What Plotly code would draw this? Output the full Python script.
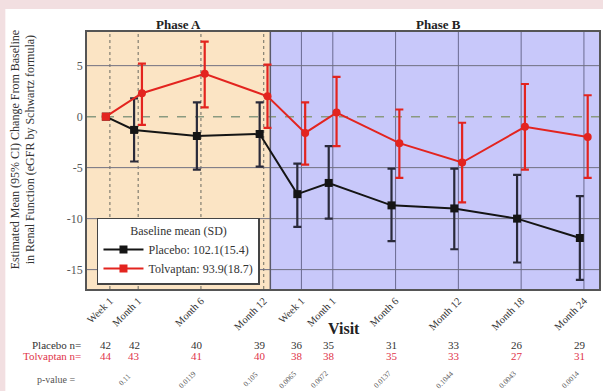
import plotly.graph_objects as go

# ---- data ----
visits = ["Week 1", "Month 1", "Month 6", "Month 12", "Week 1", "Month 1",
          "Month 6", "Month 12", "Month 18", "Month 24"]
xpos = [0, 0.9, 2.9, 4.9, 6.1, 7.1, 9.1, 11.1, 13.1, 15.1]

placebo_mean = [0, -1.3, -1.9, -1.7, -7.6, -6.5, -8.7, -9.0, -10.0, -11.9]
placebo_hi = [0, 1.8, 1.4, 1.4, -4.6, -2.9, -5.1, -5.1, -5.7, -7.8]
placebo_lo = [0, -4.4, -5.2, -4.9, -10.8, -10.0, -12.2, -13.0, -14.3, -16.0]

tolv_mean = [0, 2.3, 4.2, 2.0, -1.6, 0.4, -2.6, -4.5, -1.0, -2.0]
tolv_hi = [0, 5.2, 7.35, 5.1, 1.4, 3.9, 0.7, -0.6, 3.2, 2.1]
tolv_lo = [0, -0.8, 0.9, -1.1, -4.7, -2.9, -6.0, -8.4, -5.2, -6.0]

placebo_n = [42, 42, 40, 39, 36, 35, 31, 33, 26, 29]
tolv_n = [44, 43, 41, 40, 38, 38, 35, 33, 27, 31]
p_values = ["", "0.11", "0.0119", "0.105", "0.0065", "0.0072", "0.0137",
            "0.1044", "0.0043", "0.0014"]

yticks = [-15, -10, -5, 0, 5]

# ---- styling ----
SERIF = "Liberation Serif"
BLACK = "#151515"
RED = "#e3241f"
REDTXT = "#e0344a"
XMIN, XMAX = -0.6, 15.71
PHASE_SPLIT = 5.24
RED_SHIFT = 0.25
TICK_SHIFT = 0.13

tolv_x = [x + (RED_SHIFT if i > 0 else 0) for i, x in enumerate(xpos)]
tick_x = [x + TICK_SHIFT for x in xpos]

fig = go.Figure()

fig.add_trace(go.Scatter(
    x=xpos, y=placebo_mean, mode="lines+markers",
    name="Placebo: 102.1(15.4)",
    line=dict(color=BLACK, width=2),
    marker=dict(symbol="square", size=8, color=BLACK),
    error_y=dict(type="data", symmetric=False,
                 array=[h - m for h, m in zip(placebo_hi, placebo_mean)],
                 arrayminus=[m - l for m, l in zip(placebo_mean, placebo_lo)],
                 color="#2a2a3a", thickness=2.2, width=4),
))
fig.add_trace(go.Scatter(
    x=tolv_x, y=tolv_mean, mode="lines+markers",
    name="Tolvaptan: 93.9(18.7)",
    line=dict(color=RED, width=2),
    marker=dict(symbol=["square"] + ["circle"] * (len(tolv_mean) - 1),
                size=8, color=RED),
    error_y=dict(type="data", symmetric=False,
                 array=[h - m for h, m in zip(tolv_hi, tolv_mean)],
                 arrayminus=[m - l for m, l in zip(tolv_mean, tolv_lo)],
                 color=RED, thickness=2.2, width=4),
))

shapes = [
    dict(type="rect", xref="x", yref="paper", x0=XMIN, x1=PHASE_SPLIT, y0=0, y1=1,
         fillcolor="#fbe4c4", line=dict(width=0), layer="below"),
    dict(type="rect", xref="x", yref="paper", x0=PHASE_SPLIT, x1=XMAX, y0=0, y1=1,
         fillcolor="#c8c8fa", line=dict(width=0), layer="below"),
    # pink frame
    dict(type="rect", xref="paper", yref="paper", x0=-0.17, x1=-0.1595, y0=-0.5, y1=1.2,
         fillcolor="#f2dfe1", line=dict(width=0), layer="below"),
    dict(type="rect", xref="paper", yref="paper", x0=-0.17, x1=1.1, y0=1.0895, y1=1.2,
         fillcolor="#f2dfe1", line=dict(width=0), layer="below"),
]
for tx in tick_x:
    in_a = tx < PHASE_SPLIT
    shapes.append(dict(type="line", xref="x", yref="paper", x0=tx, x1=tx, y0=0, y1=1,
                       line=dict(color="#6a6a60" if in_a else "#6a6a90",
                                 width=1, dash="dot" if in_a else "solid"),
                       layer="between"))
for yv in yticks:
    if yv == 0:
        shapes.append(dict(type="line", xref="paper", yref="y", x0=0, x1=1, y0=0, y1=0,
                           line=dict(color="#8a9a80", width=1.5, dash="dash"),
                           layer="between"))
    else:
        shapes.append(dict(type="line", xref="paper", yref="y", x0=0, x1=1, y0=yv, y1=yv,
                           line=dict(color="#707080", width=1), layer="between"))
shapes.append(dict(type="line", xref="x", yref="paper", x0=PHASE_SPLIT, x1=PHASE_SPLIT,
                   y0=0, y1=1, line=dict(color="#5a5a6a", width=1.5), layer="between"))

annotations = [
    dict(text="<b>Phase A</b>", x=2.3, y=1.031, xref="x", yref="paper",
         yanchor="middle", showarrow=False, font=dict(family=SERIF, size=13, color="#222")),
    dict(text="<b>Phase B</b>", x=10.6, y=1.031, xref="x", yref="paper",
         yanchor="middle", showarrow=False, font=dict(family=SERIF, size=13, color="#222")),
    dict(text="<b>Visit</b>", x=7.6, y=-0.152, xref="x", yref="paper",
         yanchor="middle", showarrow=False, font=dict(family=SERIF, size=16, color="#222")),
    dict(text="Estimated Mean (95% CI) Change From Baseline<br>in Renal Function (eGFR by Schwartz formula)",
         x=-0.125, y=0.54, xref="paper", yref="paper", textangle=-90,
         xanchor="center", yanchor="middle",
         showarrow=False, font=dict(family=SERIF, size=12, color="#333")),
    dict(text="Placebo n=", x=-0.008, y=-0.218, xref="paper", yref="paper",
         xanchor="right", yanchor="middle", showarrow=False,
         font=dict(family=SERIF, size=11, color="#333")),
    dict(text="Tolvaptan n=", x=-0.008, y=-0.261, xref="paper", yref="paper",
         xanchor="right", yanchor="middle", showarrow=False,
         font=dict(family=SERIF, size=11, color=REDTXT)),
    dict(text="p-value =", x=-0.02, y=-0.352, xref="paper", yref="paper",
         xanchor="right", yanchor="middle", showarrow=False,
         font=dict(family=SERIF, size=10, color="#555")),
]
for x, pn, tn, pv in zip(xpos, placebo_n, tolv_n, p_values):
    annotations.append(dict(text=str(pn), x=x, y=-0.218, xref="x", yref="paper",
                            yanchor="middle", showarrow=False,
                            font=dict(family=SERIF, size=11, color="#333")))
    annotations.append(dict(text=str(tn), x=x, y=-0.261, xref="x", yref="paper",
                            yanchor="middle", showarrow=False,
                            font=dict(family=SERIF, size=11, color=REDTXT)))
    if pv:
        annotations.append(dict(text=pv, x=x - 0.3, y=-0.352, xref="x", yref="paper",
                                textangle=-45, xanchor="center", yanchor="middle",
                                showarrow=False,
                                font=dict(family=SERIF, size=7.5, color="#555")))

fig.update_layout(
    width=603, height=391,
    margin=dict(l=87, r=2, t=32, b=102),
    paper_bgcolor="white", plot_bgcolor="rgba(0,0,0,0)",
    showlegend=True,
    legend=dict(x=0.0195, y=0.016, xanchor="left", yanchor="bottom",
                bgcolor="white", bordercolor="#444", borderwidth=1.5,
                title=dict(text="Baseline mean (SD)", side="top center",
                           font=dict(family=SERIF, size=12, color="#333")),
                font=dict(family=SERIF, size=12, color="#333"),
                itemwidth=40),
    shapes=shapes, annotations=annotations,
)
fig.update_xaxes(
    range=[XMIN, XMAX], tickmode="array",
    tickvals=tick_x, ticktext=visits, tickangle=-45,
    tickfont=dict(family=SERIF, size=10.5, color="#333"),
    showgrid=False,
    zeroline=False, showline=True, mirror=True, linecolor="#555", linewidth=1.5,
    ticks="",
)
fig.update_yaxes(
    range=[-16.9, 8.3], tickmode="array", tickvals=yticks,
    ticktext=[str(v) for v in yticks],
    tickfont=dict(family=SERIF, size=12, color="#555"),
    showgrid=False,
    zeroline=False, showline=True, mirror=True, linecolor="#555", linewidth=1.5,
    ticks="",
)

fig.write_html("out.html")
